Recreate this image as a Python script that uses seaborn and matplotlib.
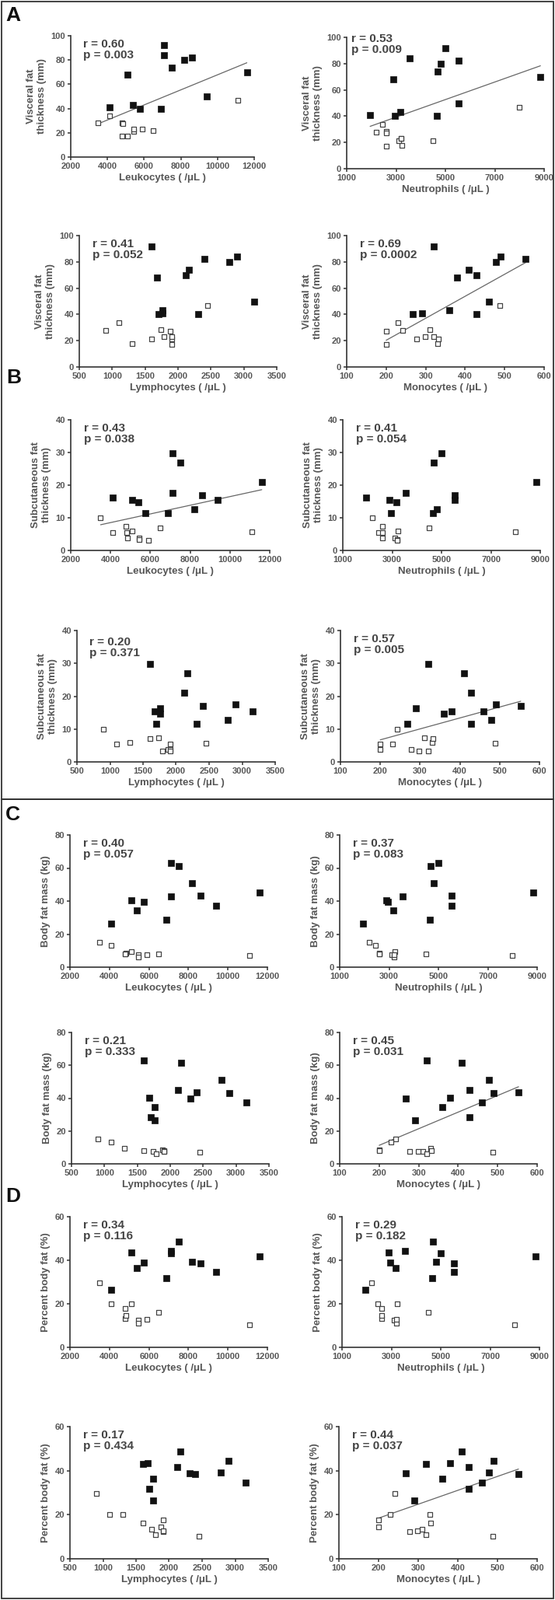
import pandas as pd
import numpy as np
import matplotlib
matplotlib.use("Agg")
import matplotlib.pyplot as plt
import seaborn as sns

# subjects shown with filled squares (12) and open squares (11)
leuk_f = [7100, 7100, 8600, 8200, 7500, 11600, 5100, 9400, 5400, 4100, 5750, 6900]
neut_f = [5000, 3550, 5550, 4800, 4680, 8850, 2900, 5530, 3180, 1950, 2950, 4650]
lymph_f = [1600, 2900, 2400, 2780, 2170, 2120, 1680, 3160, 1760, 1760, 2310, 1700]
mono_f = [320, 490, 553, 478, 410, 428, 380, 460, 360, 290, 268, 428]
vft_f = [92, 84, 82, 80, 74, 70, 68, 50, 43, 41, 40, 40]
sft_f = [29.8, 17.6, 17.0, 12.7, 27.0, 21.0, 15.4, 15.4, 14.7, 16.3, 11.5, 11.5]
bfm_f = [63.0, 43.0, 43.5, 51.0, 61.4, 45.1, 40.3, 37.3, 34.4, 26.5, 39.6, 28.6]
pbf_f = [43.1, 44.3, 38.6, 39.2, 48.6, 41.8, 43.5, 34.7, 36.5, 26.3, 38.9, 31.7]

leuk_o = [3500, 4100, 4780, 4850, 4800, 5100, 5450, 5450, 5900, 6500, 11100]
neut_o = [2200, 2450, 2600, 2620, 2620, 3250, 3100, 3200, 3220, 4500, 8000]
lymph_o = [900, 1100, 1740, 1880, 1910, 1300, 1910, 1790, 1910, 1600, 2450]
mono_o = [242, 230, 310, 200, 200, 330, 278, 320, 298, 332, 488]
vft_o = [28, 34, 28.3, 27.5, 17, 17.5, 21.3, 23, 23, 21.5, 47]
sft_o = [10, 5.5, 7.3, 3.8, 5.4, 6, 3.7, 3.3, 3.2, 7, 5.7]
bfm_o = [15, 13.4, 7.8, 8.6, 8.0, 9.5, 7.6, 6.0, 7.7, 8.1, 7.0]
pbf_o = [29.7, 20, 13.3, 14.5, 17.7, 20.1, 12.4, 11.0, 12.8, 16.2, 10.2]

# r / p values printed on each panel (section, cell)
stats = {
    ('A', 'leuk'): ('0.60', '0.003'), ('A', 'neut'): ('0.53', '0.009'),
    ('A', 'lymph'): ('0.41', '0.052'), ('A', 'mono'): ('0.69', '0.0002'),
    ('B', 'leuk'): ('0.43', '0.038'), ('B', 'neut'): ('0.41', '0.054'),
    ('B', 'lymph'): ('0.20', '0.371'), ('B', 'mono'): ('0.57', '0.005'),
    ('C', 'leuk'): ('0.40', '0.057'), ('C', 'neut'): ('0.37', '0.083'),
    ('C', 'lymph'): ('0.21', '0.333'), ('C', 'mono'): ('0.45', '0.031'),
    ('D', 'leuk'): ('0.34', '0.116'), ('D', 'neut'): ('0.29', '0.182'),
    ('D', 'lymph'): ('0.17', '0.434'), ('D', 'mono'): ('0.44', '0.037'),
}
fitted = [('A', 'leuk'), ('A', 'neut'), ('A', 'mono'), ('B', 'leuk'), ('B', 'mono'),
          ('C', 'mono'), ('D', 'mono')]

df = pd.DataFrame({
    'leuk': leuk_f + leuk_o, 'neut': neut_f + neut_o,
    'lymph': lymph_f + lymph_o, 'mono': mono_f + mono_o,
    'A': vft_f + vft_o, 'B': sft_f + sft_o, 'C': bfm_f + bfm_o, 'D': pbf_f + pbf_o,
    'group': ['filled'] * len(leuk_f) + ['open'] * len(leuk_o),
})

xinfo = {
    'leuk': ('Leukocytes ( /\u03bcL )', np.arange(2000, 12001, 2000)),
    'neut': ('Neutrophils ( /\u03bcL )', np.arange(1000, 9001, 2000)),
    'lymph': ('Lymphocytes ( /\u03bcL )', np.arange(500, 3501, 500)),
    'mono': ('Monocytes ( /\u03bcL )', np.arange(100, 601, 100)),
}
yinfo = {
    'A': ('Visceral fat\nthickness (mm)', np.arange(0, 101, 20)),
    'B': ('Subcutaneous fat\nthickness (mm)', np.arange(0, 41, 10)),
    'C': ('Body fat mass (kg)', np.arange(0, 81, 20)),
    'D': ('Percent body fat (%)', np.arange(0, 61, 20)),
}

# axes boxes in pixels: left, right, top, bottom
boxes = {
    ('A', 'leuk'): (91, 327, 46, 202), ('A', 'neut'): (446, 700, 48, 217),
    ('A', 'lymph'): (102, 356, 303, 472), ('A', 'mono'): (446, 700, 303, 472),
    ('B', 'leuk'): (91, 347, 540, 708), ('B', 'neut'): (441, 695, 540, 708),
    ('B', 'lymph'): (99, 354, 811, 980), ('B', 'mono'): (438, 694, 811, 980),
    ('C', 'leuk'): (90, 344, 1074, 1244), ('C', 'neut'): (437, 691, 1074, 1244),
    ('C', 'lymph'): (92, 346, 1328, 1497), ('C', 'mono'): (437, 691, 1328, 1497),
    ('D', 'leuk'): (90, 344, 1565, 1733), ('D', 'neut'): (440, 694, 1565, 1733),
    ('D', 'lymph'): (90, 345, 1835, 2005), ('D', 'mono'): (436, 691, 1835, 2005),
}
text_pos = {('A', 'neut'): (0.025, 1.03), ('B', 'lymph'): (0.063, 0.95)}

W, H = 714, 2058
sns.set_style('ticks')
plt.rcParams['font.family'] = ['Liberation Sans', 'DejaVu Sans']
grey = '#555555'

fig = plt.figure(figsize=(W / 100, H / 100), dpi=100)

for (sec, cell), (l, r, t, b) in boxes.items():
    ax = fig.add_axes([l / W, 1 - b / H, (r - l) / W, (b - t) / H])
    filled = df[df['group'] == 'filled']
    opened = df[df['group'] == 'open']
    sns.scatterplot(data=filled, x=cell, y=sec, marker='s', s=28, color='#111111',
                    edgecolor='#111111', linewidth=0.5, ax=ax, zorder=3)
    sns.scatterplot(data=opened, x=cell, y=sec, marker='s', s=25, color='white',
                    edgecolor='#444444', linewidth=0.9, ax=ax, zorder=3)
    if (sec, cell) in fitted:
        sns.regplot(data=df, x=cell, y=sec, scatter=False, ci=None, ax=ax,
                    line_kws={'color': '#666666', 'lw': 0.9})
    xl, xt = xinfo[cell]
    yl, yt = yinfo[sec]
    ax.set_xlim(xt[0], xt[-1])
    ax.set_ylim(yt[0], yt[-1])
    ax.set_xticks(xt)
    ax.set_yticks(yt)
    ax.set_xlabel(xl, fontsize=9.5, fontweight='bold', color=grey, labelpad=3)
    ax.set_ylabel(yl, fontsize=9.5, fontweight='bold', color=grey, labelpad=4)
    ax.tick_params(axis='both', labelsize=8, colors='#333333', labelcolor=grey,
                   length=3, width=1.1, pad=2)
    for lab in ax.get_xticklabels() + ax.get_yticklabels():
        lab.set_fontweight('bold')
    sns.despine(ax=ax)
    for sp in ['left', 'bottom']:
        ax.spines[sp].set_color('#333333')
        ax.spines[sp].set_linewidth(1.2)
    rv, pv = stats[(sec, cell)]
    tx, ty = text_pos.get((sec, cell), (0.068, 0.975))
    ax.text(tx, ty, f'r = {rv}\np = {pv}', transform=ax.transAxes, ha='left', va='top',
            fontsize=11, fontweight='bold', color='#444444', linespacing=1.0)

# section letters
for letter, (x, y) in {'A': (17, 20), 'B': (18, 486), 'C': (16, 1048), 'D': (17, 1539)}.items():
    fig.text(x / W, 1 - y / H, letter, fontsize=19, fontweight='bold', color='#111111',
             ha='center', va='center')

# frames around A+B and C+D
for top, bot in [(2, 1028), (1028, 2056)]:
    fig.add_artist(plt.Rectangle((2 / W, 1 - bot / H), 710 / W, (bot - top) / H,
                                 transform=fig.transFigure, fill=False,
                                 edgecolor='#333333', linewidth=1.3))

fig.savefig('out.png', dpi=100)
